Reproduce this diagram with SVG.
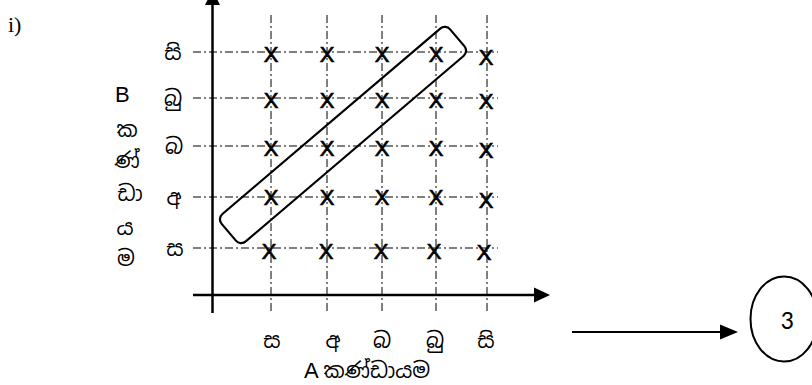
<svg xmlns="http://www.w3.org/2000/svg" width="812" height="385" viewBox="0 0 812 385">
  <style>
    .grid { stroke: #000; stroke-width: 1; stroke-dasharray: 8 3 2 3; fill: none; }
    .axis { stroke: #000; stroke-width: 2.5; fill: none; }
    .mark { font-family: "Liberation Sans", Arial, sans-serif; font-size: 22px; fill: #000; stroke: #000; stroke-width: 0.7; text-anchor: middle; }
    .si { font-family: "Noto Sans Sinhala", "Iskoola Pota", "Noto Sans", "DejaVu Sans", sans-serif; font-size: 21px; fill: #000; text-anchor: middle; }
    .lat { font-family: "Liberation Sans", Arial, sans-serif; font-size: 22px; fill: #000; }
  </style>
  <rect width="812" height="385" fill="#fff"/>
  <text x="8" y="32" font-family="Liberation Serif, 'Times New Roman', serif" font-size="22">i)</text>

  <g id="grid">
    <line class="grid" x1="193" y1="52" x2="498" y2="52"/>
    <line class="grid" x1="193" y1="98" x2="498" y2="98"/>
    <line class="grid" x1="193" y1="146" x2="498" y2="146"/>
    <line class="grid" x1="193" y1="197" x2="498" y2="197"/>
    <line class="grid" x1="193" y1="248" x2="498" y2="248"/>
    <line class="grid" x1="271" y1="15" x2="271" y2="313"/>
    <line class="grid" x1="327" y1="15" x2="327" y2="313"/>
    <line class="grid" x1="382" y1="15" x2="382" y2="313"/>
    <line class="grid" x1="436" y1="15" x2="436" y2="313"/>
    <line class="grid" x1="487" y1="15" x2="487" y2="313"/>
  </g>

  <g id="axes">
    <line class="axis" x1="212.5" y1="313" x2="212.5" y2="4"/>
    <polygon points="212.5,-10 205,5 220,5" fill="#000"/>
    <line class="axis" x1="193" y1="295" x2="536" y2="295"/>
    <polygon points="550,295 534,287.5 534,302.5" fill="#000"/>
  </g>

  <g id="marks">
    <text class="mark" x="271" y="62">X</text>
    <text class="mark" x="327" y="62">X</text>
    <text class="mark" x="382" y="62">X</text>
    <text class="mark" x="436" y="62">X</text>
    <text class="mark" x="486" y="65">X</text>
    <text class="mark" x="271" y="108">X</text>
    <text class="mark" x="327" y="108">X</text>
    <text class="mark" x="382" y="108">X</text>
    <text class="mark" x="436" y="108">X</text>
    <text class="mark" x="486" y="109">X</text>
    <text class="mark" x="271" y="156">X</text>
    <text class="mark" x="327" y="156">X</text>
    <text class="mark" x="382" y="156">X</text>
    <text class="mark" x="436" y="156">X</text>
    <text class="mark" x="486" y="158">X</text>
    <text class="mark" x="271" y="205">X</text>
    <text class="mark" x="327" y="205">X</text>
    <text class="mark" x="382" y="205">X</text>
    <text class="mark" x="436" y="205">X</text>
    <text class="mark" x="486" y="208">X</text>
    <text class="mark" x="269" y="259">X</text>
    <text class="mark" x="326" y="259">X</text>
    <text class="mark" x="381" y="259">X</text>
    <text class="mark" x="434" y="259">X</text>
    <text class="mark" x="484" y="260">X</text>
  </g>

  <g id="selection">
    <rect x="193" y="117" width="300" height="36" rx="7" ry="7" fill="none" stroke="#000" stroke-width="2.2" transform="rotate(-40.4 343 135)"/>
  </g>

  <g id="y-labels">
    <text class="si" x="173" y="60">සි</text>
    <text class="si" x="173" y="106">බු</text>
    <text class="si" x="174" y="154">බ</text>
    <text class="si" x="174" y="205">අ</text>
    <text class="si" x="175" y="256">ස</text>
  </g>

  <g id="y-title">
    <text class="lat" x="115" y="102">B</text>
    <text class="si" x="127" y="137">ක</text>
    <text class="si" x="127" y="168">ණ්</text>
    <text class="si" x="130" y="201">ඩා</text>
    <text class="si" x="125" y="235">ය</text>
    <text class="si" x="126" y="266">ම</text>
  </g>

  <g id="x-labels">
    <text class="si" x="272" y="348">ස</text>
    <text class="si" x="333" y="348">අ</text>
    <text class="si" x="382" y="348">බ</text>
    <text class="si" x="435" y="348">බු</text>
    <text class="si" x="486" y="348">සි</text>
  </g>

  <g id="x-title">
    <text x="304" y="378" class="lat">A <tspan font-family="Noto Sans Sinhala, Iskoola Pota, Noto Sans, sans-serif" font-size="21">කණ්ඩායම</tspan></text>
  </g>

  <g id="connectors">
    <line x1="572" y1="332" x2="722" y2="332" stroke="#000" stroke-width="2"/>
    <polygon points="738,332 720,324.5 720,339.5" fill="#000"/>
  </g>

  <g id="node-3">
    <ellipse cx="784" cy="319" rx="33.5" ry="42.5" fill="none" stroke="#000" stroke-width="2"/>
    <text x="787" y="329" font-family="Carlito, 'Liberation Sans', sans-serif" font-size="26" text-anchor="middle">3</text>
  </g>
</svg>
